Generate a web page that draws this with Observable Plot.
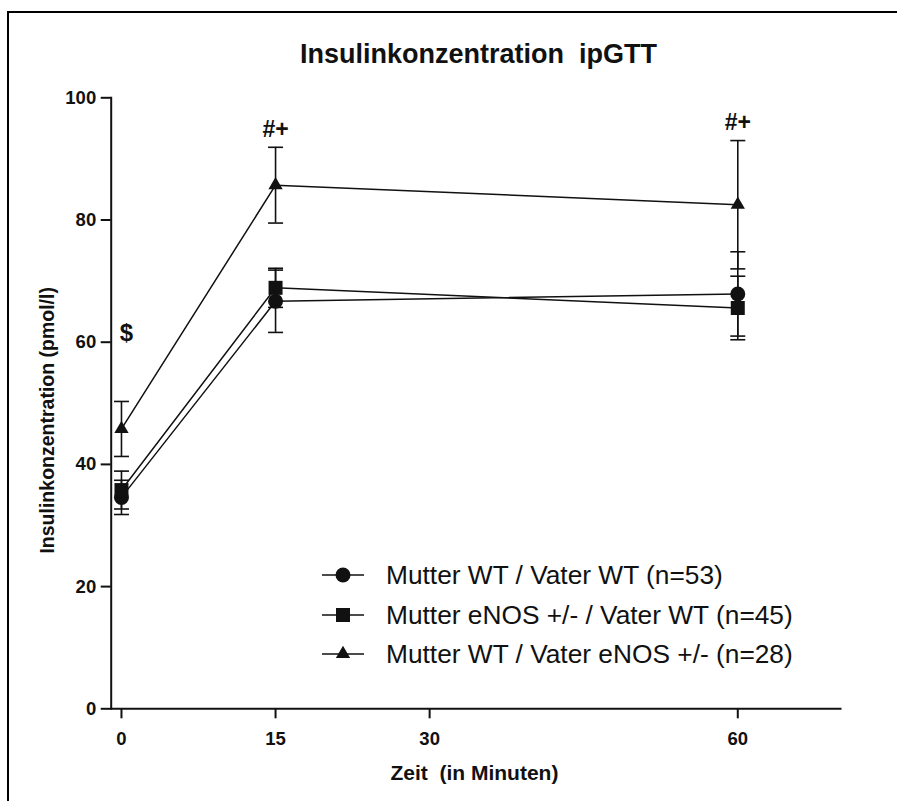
<!DOCTYPE html>
<html>
<head>
<meta charset="utf-8">
<script src="https://cdn.jsdelivr.net/npm/d3@7"></script>
<script src="https://cdn.jsdelivr.net/npm/@observablehq/plot@0.6"></script>
<style>
  body { margin: 0; background: #fff; }
  #chart { position: relative; width: 899px; height: 803px; }
  #chart svg text { white-space: pre; }
  #border {
    position: absolute; left: 7px; top: 11px; width: 890px; height: 790px;
    border-left: 2px solid #000; border-top: 2px solid #000; box-sizing: border-box;
    pointer-events: none;
  }
</style>
</head>
<body>
<div id="chart"><div id="border"></div></div>
<script>
// Insulin concentration during the ipGTT, mean ± SEM per group
const minutes = [0, 15, 60];
const groups = [
  "Mutter WT / Vater WT (n=53)",
  "Mutter eNOS +/- / Vater WT (n=45)",
  "Mutter WT / Vater eNOS +/- (n=28)"
];
const groupSymbols = ["circle", "square", "triangle"];
const meanWtWt = [34.6, 66.7, 67.9];
const semWtWt = [2.8, 5.1, 6.9];
const meanMutterEnos = [35.8, 68.9, 65.6];
const semMutterEnos = [3.1, 3.2, 5.2];
const meanVaterEnos = [45.8, 85.7, 82.5];
const semVaterEnos = [4.5, 6.2, 10.5];
const xTicks = [0, 15, 30, 60];
const yTicks = [0, 20, 40, 60, 80, 100];
const significance = [
  {minute: 0, text: "$"},
  {minute: 15, text: "#+"},
  {minute: 60, text: "#+"}
];

const means = [meanWtWt, meanMutterEnos, meanVaterEnos];
const sems = [semWtWt, semMutterEnos, semVaterEnos];
const rows = groups.flatMap((group, g) =>
  minutes.map((minute, i) => ({
    group, g, minute,
    mean: means[g][i],
    lo: means[g][i] - sems[g][i],
    hi: means[g][i] + sems[g][i]
  }))
);

// Significance labels sit above the top of the paternal-eNOS error bar
const topOf = m => rows.find(r => r.g === 2 && r.minute === m).hi;
const notes = significance.map(d => ({...d, top: topOf(d.minute)}));

// Horizontal stroke used as error-bar cap
const capSymbol = {
  draw(context, size) {
    const w = Math.sqrt(size / Math.PI);
    context.moveTo(-w, 0);
    context.lineTo(w, 0);
  }
};
const symbolRadius = {circle: 7.5, square: 7.9, triangle: 5.3};

const ink = "#111";
const font = "'Liberation Sans', Arial, Helvetica, sans-serif";

const chart = Plot.plot({
  width: 899,
  height: 803,
  marginLeft: 110.7,
  marginRight: 59,
  marginTop: 97.3,
  marginBottom: 94.7,
  x: {domain: [-1, 70], axis: null},
  y: {domain: [0, 100], axis: null},
  style: {fontFamily: font, color: ink, background: "transparent", overflow: "visible"},
  marks: [
    Plot.frame({anchor: "left", stroke: ink, strokeWidth: 2}),
    Plot.frame({anchor: "bottom", stroke: ink, strokeWidth: 2}),
    Plot.axisY(yTicks, {
      tickSize: 10, tickPadding: 5, strokeWidth: 2, stroke: ink,
      fontSize: 18.5, fontWeight: "bold", fill: ink, label: null, tickFormat: d => `${d}`
    }),
    Plot.axisX(xTicks, {
      tickSize: 10, tickPadding: 13, strokeWidth: 2, stroke: ink,
      fontSize: 18.5, fontWeight: "bold", fill: ink, label: null, tickFormat: d => `${d}`
    }),
    Plot.line(rows, {x: "minute", y: "mean", z: "group", stroke: ink, strokeWidth: 1.5}),
    Plot.ruleX(rows, {x: "minute", y1: "lo", y2: "hi", stroke: ink, strokeWidth: 1.6}),
    Plot.dot(rows, {x: "minute", y: "lo", symbol: capSymbol, r: 7.5, stroke: ink, strokeWidth: 1.6, fill: "none"}),
    Plot.dot(rows, {x: "minute", y: "hi", symbol: capSymbol, r: 7.5, stroke: ink, strokeWidth: 1.6, fill: "none"}),
    ...groups.map((group, g) =>
      Plot.dot(rows.filter(r => r.g === g), {
        x: "minute", y: "mean", symbol: groupSymbols[g],
        r: symbolRadius[groupSymbols[g]], fill: ink, stroke: "none"
      })
    ),
    Plot.text(notes.filter(d => d.text === "$"), {
      x: "minute", y: "top", text: "text", dx: 5, dy: -68,
      fontSize: 24, fontWeight: "bold", fill: ink
    }),
    Plot.text(notes.filter(d => d.text !== "$"), {
      x: "minute", y: "top", text: "text", dy: -18,
      fontSize: 23, fontWeight: "bold", fill: ink
    }),
    Plot.text(["Insulinkonzentration  ipGTT"], {
      frameAnchor: "top", lineAnchor: "middle", dx: 2.6, dy: -43,
      fontSize: 27, fontWeight: "bold", fill: ink
    }),
    Plot.text(["Insulinkonzentration (pmol/l)"], {
      frameAnchor: "left", textAnchor: "middle", rotate: -90, dx: -63.7, dy: 17,
      fontSize: 19.5, fontWeight: "bold", fill: ink
    }),
    Plot.text(["Zeit  (in Minuten)"], {
      frameAnchor: "bottom", lineAnchor: "middle", dx: -1.4, dy: 64.7,
      fontSize: 21, fontWeight: "bold", fill: ink
    })
  ]
});

// Legend drawn inside the plot area
const svg = d3.select(chart);
const legend = svg.append("g").attr("font-family", font).attr("fill", ink).attr("text-anchor", "start");
const legendRowsY = [575, 615, 654];
groups.forEach((group, g) => {
  const y = legendRowsY[g];
  const row = legend.append("g").attr("transform", `translate(0,${y})`);
  row.append("line").attr("x1", 322).attr("x2", 364).attr("stroke", ink).attr("stroke-width", 1.6);
  const s = groupSymbols[g];
  const r = symbolRadius[s];
  const type = s === "circle" ? d3.symbolCircle : s === "square" ? d3.symbolSquare : d3.symbolTriangle;
  row.append("path").attr("transform", "translate(343,0)")
    .attr("d", d3.symbol(type, Math.PI * r * r)()).attr("fill", ink);
  row.append("text").attr("x", 386).attr("dy", "0.35em").attr("font-size", 26.3)
    .attr("text-anchor", "start").text(group);
});

document.getElementById("chart").appendChild(chart);
</script>
</body>
</html>
